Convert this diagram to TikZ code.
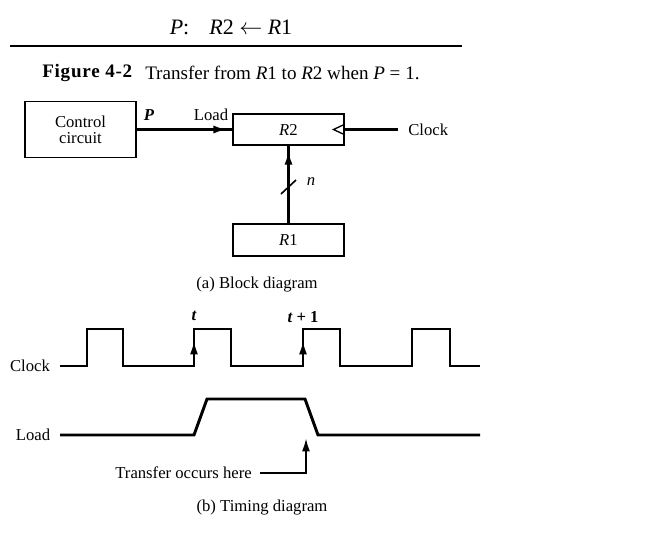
\documentclass[tikz,border=0pt]{standalone}
\usepackage{fontspec}
\setmainfont{Liberation Serif}
\usetikzlibrary{arrows.meta}
\tikzset{
  lbl/.style={font=\fontsize{12.5}{14}\selectfont, inner sep=0pt},
  small/.style={font=\fontsize{12.5}{14}\selectfont\bfseries\itshape, inner sep=0pt},
  box/.style={draw, line width=1.3pt, inner sep=0pt, align=center, font=\fontsize{12.5}{14}\selectfont},
  sig/.style={line width=1.6pt},
  wave/.style={line width=2.2pt, line join=miter},
  tip/.style={-{Latex[length=10pt,width=6pt]}},
}
\begin{document}
\begin{tikzpicture}[x=0.75pt,y=-0.75pt]
\useasboundingbox (0,0) rectangle (665,533);
% header
\node[font=\fontsize{16.5}{18}\selectfont, inner sep=0pt] (title) at (231,27) {\textit{P}:\hspace{15pt}\textit{R}2 $\leftarrow$ \textit{R}1};
\draw[line width=0.9pt] (10,46) -- (462,46);
\node[font=\fontsize{14.3}{16}\selectfont\bfseries, inner sep=0pt, anchor=west] (fig) at (42,73) {\addfontfeature{LetterSpace=4}Figure 4-2};
\node[font=\fontsize{14.3}{16}\selectfont, inner sep=0pt, anchor=west] (cap) at (145,73) {Transfer from \textit{R}1 to \textit{R}2 when \textit{P} = 1.};
% block diagram
\node[box, minimum width=83.25pt, minimum height=42pt] (ctrl) at (80.5,129.5) {Control\\[-2pt]circuit};
\node[box, minimum width=83.25pt, minimum height=23.25pt] (r2) at (288.5,129.5) {\textit{R}2};
\node[box, minimum width=83.25pt, minimum height=24pt] (r1) at (288.5,240) {\textit{R}1};
\node[small] (p) at (149,115) {P};
\node[lbl] (load) at (211,115) {Load};
\draw[sig] (ctrl.east) -- (ctrl.east -| r2.west);
\draw[sig, tip, shorten >=4pt] (ctrl.east) -- (ctrl.east -| r2.west);
% clock triangle
\coordinate (ctri) at (r2.east);
\draw[line width=1pt] ([yshift=4pt]ctri) -- ++(-8.5pt,-4pt) -- ++(8.5pt,-4pt);
\node[lbl, anchor=west] (clk) at (408,130) {Clock};
\draw[sig, shorten <=7.5pt] (clk.west |- r2.east) -- (r2.east);
% bus
\draw[sig] (r1.north) -- (r2.south);
\draw[sig, tip, shorten >=4pt] (r1.north) -- (r2.south);
\draw[line width=1.2pt] (281,194) -- (296,180);
\node[small, font=\fontsize{12.5}{14}\selectfont\itshape] (n) at (311,182) {n};
\node[lbl] (capa) at (257,285) {(a) Block diagram};
% timing
\node[lbl] (clklab) at (30,366) {Clock};
\node[lbl] (loadlab) at (33,435) {Load};
\draw[wave] (60,366) -- (87,366) -- (87,329) -- (123,329) -- (123,366) -- (194,366) -- (194,329) -- (231,329) -- (231,366)
  -- (303,366) -- (303,329) -- (340,329) -- (340,366) -- (412,366) -- (412,329) -- (450,329) -- (450,366) -- (480,366);
\draw[sig, tip] (194,366) -- (194,341);
\draw[sig, tip] (303,366) -- (303,341);
\node[small] (t) at (194,316) {t};
\node[small] (t1) at (303,317) {t\hspace{3pt}\textup{+\hspace{3pt}1}};
\draw[wave] (60,435) -- (194,435) -- (207,399) -- (305,399) -- (318,435) -- (480,435);
\node[lbl, anchor=east] (tr) at (252,473) {Transfer occurs here};
\coordinate (trtip) at (306,438);
\draw[sig, tip] ([xshift=6pt]tr.east) -| (trtip);
\node[lbl] (capb) at (262,508) {(b) Timing diagram};
\end{tikzpicture}
\end{document}
